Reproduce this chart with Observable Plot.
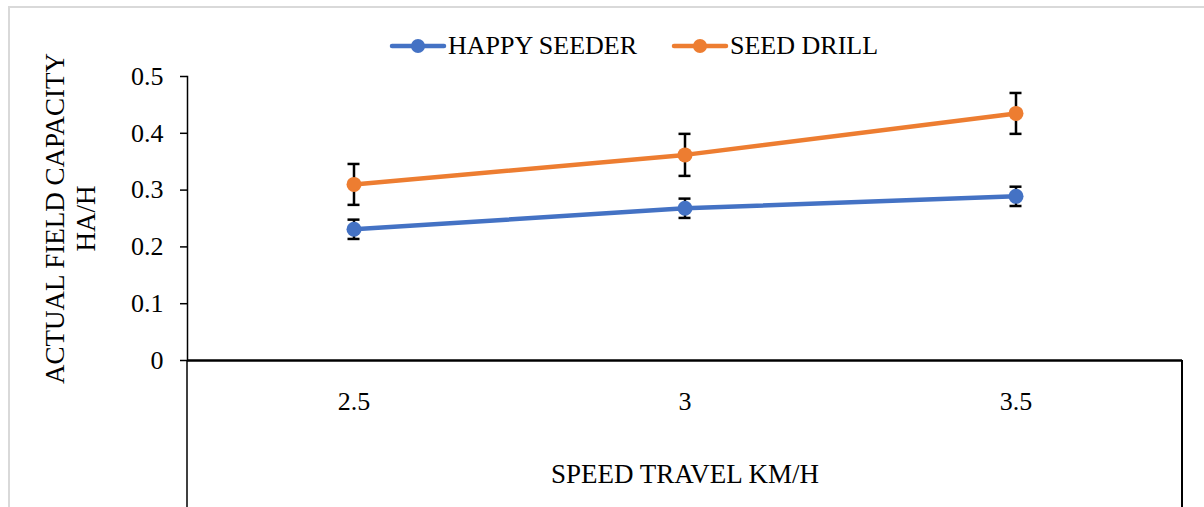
<!DOCTYPE html>
<html>
<head>
<meta charset="utf-8">
<script src="https://cdn.jsdelivr.net/npm/d3@7"></script>
<script src="https://cdn.jsdelivr.net/npm/@observablehq/plot@0.6"></script>
<style>
  html, body { margin: 0; padding: 0; background: #fff; }
  #wrap { position: relative; width: 1204px; height: 507px; overflow: hidden; font-family: "Liberation Serif", "Times New Roman", serif; }
  #border { position: absolute; left: 8px; top: 6px; width: 1300px; height: 600px; border: 2px solid #d9d9d9; box-sizing: border-box; }
  #legend { position: absolute; top: 30px; left: 389px; display: flex; align-items: center; font-size: 26px; line-height: 32px; color: #000; white-space: nowrap; }
  .item { display: flex; align-items: center; margin-right: 34px; }
  .item svg { margin-right: 1px; }
  #chart { position: absolute; left: 0; top: 0; }
</style>
</head>
<body>
<div id="wrap">
  <div id="border"></div>
  <div id="chart"></div>
  <div id="legend"></div>
</div>
<script>
const speeds = ["2.5", "3", "3.5"];
const seriesNames = ["HAPPY SEEDER", "SEED DRILL"];
const happySeeder = [0.231, 0.268, 0.289];
const happySeederErr = [0.017, 0.017, 0.017];
const seedDrill = [0.310, 0.362, 0.435];
const seedDrillErr = [0.036, 0.037, 0.036];
const yTicks = [0, 0.1, 0.2, 0.3, 0.4, 0.5];
const colors = ["#4472C4", "#ED7D31"];
const yTitle = "ACTUAL FIELD CAPACITY\nHA/H";
const xTitle = "SPEED TRAVEL KM/H";

const data = [];
speeds.forEach((s, i) => {
  data.push({speed: s, series: seriesNames[0], value: happySeeder[i], err: happySeederErr[i]});
  data.push({speed: s, series: seriesNames[1], value: seedDrill[i], err: seedDrillErr[i]});
});

const W = 1204, H = 507;
const FS = 26;
const plot = Plot.plot({
  width: W, height: H,
  marginLeft: 187, marginRight: 22, marginTop: 76, marginBottom: 147,
  style: {fontFamily: "'Liberation Serif', 'Times New Roman', serif", fontSize: FS + "px", color: "#000", background: "transparent", overflow: "visible"},
  x: {type: "band", domain: speeds, padding: 0},
  y: {domain: [0, 0.5]},
  color: {domain: seriesNames, range: colors},
  marks: [
    Plot.frame({anchor: "left", stroke: "#000", strokeWidth: 1.5, strokeOpacity: 1}),
    Plot.ruleY([0], {stroke: "#000", strokeWidth: 2.5}),
    Plot.axisY({ticks: yTicks, tickSize: 7, tickPadding: 17, tickFormat: d => String(d), label: null, stroke: "#000", strokeWidth: 1.5, fontSize: FS}),
    Plot.axisX({tickSize: 0, tickPadding: 31.5, label: null, fontSize: FS}),
    Plot.text([yTitle], {frameAnchor: "left", textAnchor: "middle", lineAnchor: "middle", dx: -118, dy: 0, rotate: -90, lineHeight: 1.15, fontSize: 27, fill: "#000"}),
    Plot.text([xTitle], {frameAnchor: "bottom", textAnchor: "middle", lineAnchor: "middle", dy: 113.7, fontSize: 27, fill: "#000"}),
    Plot.ruleX(data, {x: "speed", y1: d => d.value - d.err, y2: d => d.value + d.err, stroke: "#000", strokeWidth: 2.5}),
    Plot.tickY(data, {x: "speed", y: d => d.value - d.err, stroke: "#000", strokeWidth: 2.5, insetLeft: 159.5, insetRight: 159.5}),
    Plot.tickY(data, {x: "speed", y: d => d.value + d.err, stroke: "#000", strokeWidth: 2.5, insetLeft: 159.5, insetRight: 159.5}),
    Plot.line(data, {x: "speed", y: "value", z: "series", stroke: "series", strokeWidth: 4.5, strokeLinecap: "round"}),
    Plot.dot(data, {x: "speed", y: "value", fill: "series", r: 7.5, stroke: "none"})
  ]
});
document.getElementById("chart").appendChild(plot);

// extend band-edge lines below the category axis
const xs = plot.scale("x");
const ys = plot.scale("y");
const svg = d3.select(plot);
const y0 = ys.apply(0);
[xs.range[0], xs.range[1]].forEach(xv => {
  svg.append("line").attr("x1", xv).attr("x2", xv).attr("y1", y0).attr("y2", H)
    .attr("stroke", "#000").attr("stroke-width", xv === xs.range[0] ? 1.5 : 2);
});

// legend
const legend = d3.select("#legend");
seriesNames.forEach((name, i) => {
  const it = legend.append("div").attr("class", "item");
  const s = it.append("svg").attr("width", 58).attr("height", 16);
  s.append("line").attr("x1", 3).attr("x2", 55).attr("y1", 8).attr("y2", 8).attr("stroke", colors[i]).attr("stroke-width", 4.5).attr("stroke-linecap", "round");
  s.append("circle").attr("cx", 29).attr("cy", 8).attr("r", 7).attr("fill", colors[i]);
  it.append("span").text(name);
});
</script>
</body>
</html>
